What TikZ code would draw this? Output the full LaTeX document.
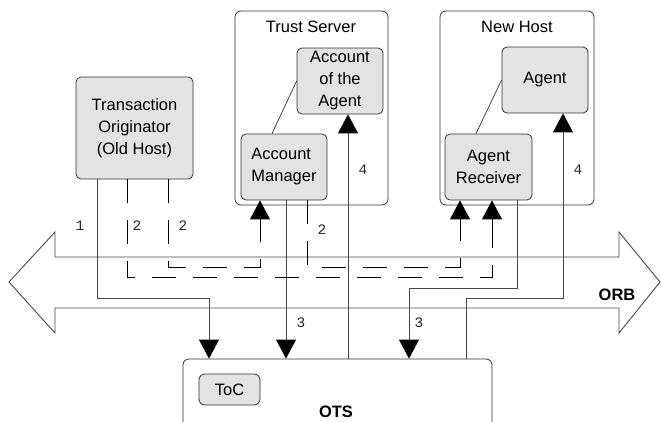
\documentclass[tikz,border=0pt]{standalone}
\usepackage{fontspec}
\setmainfont{Liberation Sans}
\newfontfamily\monof{Liberation Mono}
\usetikzlibrary{arrows.meta}
\begin{document}
\begin{tikzpicture}[x=1pt,y=-1pt,
 innerbox/.style={draw=black!80, fill=black!11, rounded corners=5pt, line width=0.8pt, align=center, font=\fontsize{16.5}{22}\selectfont, inner sep=0pt},
 outerbox/.style={draw=black!80, fill=white, rounded corners=6pt, line width=0.8pt, inner sep=0pt},
 conn/.style={draw=black!72, line width=0.9pt},
 dconn/.style={draw=black, line width=0.9pt, dash pattern=on 24pt off 17pt},
 tip/.style={-{Triangle[width=20pt,length=19pt,color=black,fill=black]}},
 num/.style={font=\monof\fontsize{14.5}{14}\selectfont, text=black!85, inner sep=0pt},
 lbl/.style={font=\fontsize{16.5}{20}\selectfont, inner sep=0pt}
]
\clip (0,0) rectangle (661,421);
\fill[white] (0,0) rectangle (661,421);

% ORB double arrow
\draw[draw=black!72, line width=0.9pt, fill=white]
  (55,257) -- (619,257) -- (619,232) -- (660,282) -- (619,333) -- (619,308)
  -- (55,308) -- (55,333) -- (9,282) -- (55,232) -- cycle;
\node[lbl, font=\bfseries\fontsize{16.5}{20}\selectfont] (orb) at (617,295) {ORB};

% outer boxes
\node[outerbox, minimum width=153pt, minimum height=194pt] (ts) at (311.5,108) {};
\node[lbl] (tst) at (311,27) {Trust Server};
\node[outerbox, minimum width=154pt, minimum height=194pt] (nh) at (517,108) {};
\node[lbl] (nht) at (517,27) {New Host};
\node[outerbox, minimum width=309pt, minimum height=90pt] (ots) at (337.5,404) {};
\node[lbl, font=\bfseries\fontsize{16.5}{20}\selectfont] (otst) at (336,412) {OTS};

% inner boxes
\node[innerbox, minimum width=117pt, minimum height=102pt] (to) at (134.5,128) {Transaction\\Originator\\(Old Host)};
\node[innerbox, minimum width=86pt, minimum height=66pt] (aa) at (340,81) {Account\\of the\\Agent};
\node[innerbox, minimum width=86pt, minimum height=66pt, align=left] (am) at (284,167) {Account\\Manager};
\node[innerbox, minimum width=86pt, minimum height=66pt] (ag) at (545,80) {Agent};
\node[innerbox, minimum width=87pt, minimum height=66pt] (ar) at (488.5,167) {Agent\\Receiver};
\node[innerbox, minimum width=61pt, minimum height=31pt, rounded corners=6pt] (toc) at (229.5,389.5) {ToC};

% associations
\draw[black!80, line width=0.7pt] (am.north -| 272,0) -- (aa.west);
\draw[black!80, line width=0.7pt] (ar.north -| 476,0) -- (ag.west);

% x positions and bends
\coordinate (k1) at (209,298);
\coordinate (x1) at (97,0);
\coordinate (x4a) at (348,0);
\coordinate (x4b) at (563,298);
\coordinate (k4b) at (466,298);
\coordinate (x3a) at (286,0);
\coordinate (x3b) at (517,288);
\coordinate (k3b) at (409,288);
\coordinate (d1) at (127,277);
\coordinate (e1) at (492,277);
\coordinate (d2) at (168,267);
\coordinate (e2) at (260,267);
\coordinate (d3) at (307,267);
\coordinate (e3) at (460,267);

% connector 1
\draw[conn, tip] (to.south -| x1) |- (k1) -- (ots.north -| k1);
% connectors 3
\draw[conn, tip] (am.south -| x3a) -- (ots.north -| x3a);
\draw[conn, tip] (ar.south -| x3b) -- (x3b) -- (k3b) -- (ots.north -| k3b);
% connectors 4
\draw[conn, tip] (ots.north -| x4a) -- (aa.south -| x4a);
\draw[conn, tip] (ots.north -| k4b) -- (k4b) -- (x4b) -- (ag.south -| x4b);

% dashed connectors 2
\draw[dconn] (to.south -| d1) -- (d1) -- (e1) -- (e1 |- 0,222);
\draw[dconn] (to.south -| d2) -- (d2) -- (e2) -- (e2 |- 0,222);
\draw[dconn] (am.south -| d3) -- (d3) -- (e3) -- (e3 |- 0,222);
\draw[conn, draw=black, tip] (e1 |- 0,226) -- (ar.south -| e1);
\draw[conn, draw=black, tip] (e2 |- 0,226) -- (am.south -| e2);
\draw[conn, draw=black, tip] (e3 |- 0,226) -- (ar.south -| e3);

% numbers
\node[num] (n1) at (80,226) {1};
\node[num] (n2a) at (137,226) {2};
\node[num] (n2b) at (183,226) {2};
\node[num] (n2c) at (322,230) {2};
\node[num] (n3a) at (301,323) {3};
\node[num] (n3b) at (419,323) {3};
\node[num] (n4a) at (363,170) {4};
\node[num] (n4b) at (578,170) {4};
\end{tikzpicture}
\end{document}
